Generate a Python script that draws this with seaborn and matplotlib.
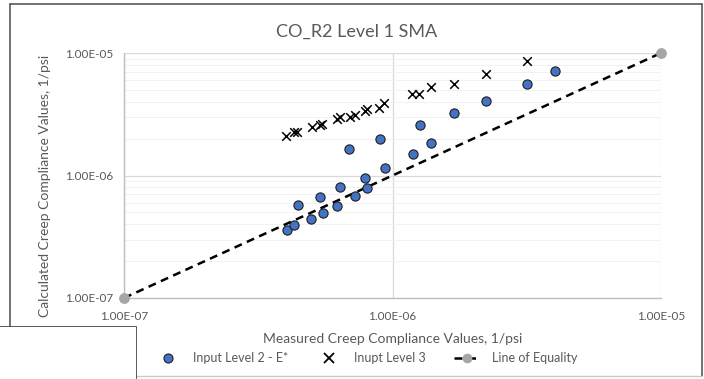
import matplotlib

matplotlib.use("Agg")
import matplotlib.pyplot as plt
import numpy as np
import pandas as pd
import seaborn as sns
from matplotlib.lines import Line2D
from matplotlib.patches import Rectangle
from matplotlib.ticker import FixedLocator, FuncFormatter, LogLocator

W, H = 704, 379

# Input Level 2 - E* (measured, calculated)
level2_measured = [4.05e-7, 4.29e-7, 4.45e-7, 4.99e-7, 5.39e-7, 5.52e-7, 6.19e-7,
                   6.38e-7, 6.90e-7, 7.22e-7, 7.87e-7, 8.02e-7, 8.98e-7, 9.35e-7,
                   1.19e-6, 1.27e-6, 1.39e-6, 1.70e-6, 2.23e-6, 3.16e-6, 4.04e-6]
level2_calculated = [3.62e-7, 3.91e-7, 5.77e-7, 4.41e-7, 6.63e-7, 4.90e-7, 5.60e-7,
                     8.05e-7, 1.64e-6, 6.75e-7, 9.60e-7, 7.94e-7, 1.98e-6, 1.16e-6,
                     1.50e-6, 2.59e-6, 1.85e-6, 3.25e-6, 4.07e-6, 5.54e-6, 7.08e-6]

# Inupt Level 3 (measured, calculated)
level3_measured = [4.02e-7, 4.30e-7, 4.41e-7, 5.01e-7, 5.35e-7, 5.47e-7, 6.19e-7,
                   6.38e-7, 6.95e-7, 7.22e-7, 7.87e-7, 8.05e-7, 8.93e-7, 9.28e-7,
                   1.18e-6, 1.26e-6, 1.39e-6, 1.69e-6, 2.23e-6, 3.16e-6]
level3_calculated = [2.12e-6, 2.25e-6, 2.25e-6, 2.48e-6, 2.56e-6, 2.64e-6, 2.88e-6,
                     3.03e-6, 3.03e-6, 3.13e-6, 3.37e-6, 3.48e-6, 3.59e-6, 3.90e-6,
                     4.61e-6, 4.61e-6, 5.27e-6, 5.57e-6, 6.68e-6, 8.61e-6]

equality = [1e-7, 1e-5]
axis_ticks = [1e-7, 1e-6, 1e-5]

level2 = pd.DataFrame({"measured": level2_measured, "calculated": level2_calculated})
level3 = pd.DataFrame({"measured": level3_measured, "calculated": level3_calculated})
line_eq = pd.DataFrame({"measured": equality, "calculated": equality})

sns.set_theme(style="white")
plt.rcParams["font.family"] = ["Lato", "DejaVu Sans"]

TEXT = "#595959"
GRID = "#d9d9d9"
BLUE = "#4472c4"

fig = plt.figure(figsize=(W / 100, H / 100), dpi=100)
fig.patch.set_facecolor("white")

ax = fig.add_axes([124 / W, 1 - 298 / H, (661 - 124) / W, (298 - 53) / H])
ax.set_xscale("log")
ax.set_yscale("log")

sns.lineplot(data=line_eq, x="measured", y="calculated", ax=ax, color="black",
             linestyle=(0, (3.2, 2.2)), linewidth=1.8, marker="o", markersize=7,
             markerfacecolor="#a6a6a6", markeredgecolor="#a6a6a6", clip_on=False,
             zorder=3)
sns.scatterplot(data=level3, x="measured", y="calculated", ax=ax, marker="x",
                color="black", s=38, linewidth=1.1, zorder=4)
sns.scatterplot(data=level2, x="measured", y="calculated", ax=ax, marker="o",
                color=BLUE, edgecolor="#1f1f1f", s=44, linewidth=0.8, zorder=5)

ax.set_xlim(1e-7, 1e-5)
ax.set_ylim(1e-7, 1e-5)
fmt = FuncFormatter(lambda v, p: f"{v:.2E}")
for axis in (ax.xaxis, ax.yaxis):
    axis.set_major_locator(FixedLocator(axis_ticks))
    axis.set_major_formatter(fmt)
ax.yaxis.set_minor_locator(LogLocator(base=10, subs=np.arange(2, 10)))
ax.xaxis.set_minor_locator(LogLocator(base=10, subs=[]))
ax.yaxis.set_minor_formatter(FuncFormatter(lambda v, p: ""))

ax.grid(which="major", color=GRID, linewidth=0.9)
ax.grid(which="minor", axis="y", color="#f1f1f1", linewidth=0.7)
ax.set_axisbelow(True)
for side in ("top", "right"):
    ax.spines[side].set_visible(False)
for side in ("left", "bottom"):
    ax.spines[side].set_color("#bfbfbf")
    ax.spines[side].set_linewidth(1.0)
ax.tick_params(which="both", length=0, labelsize=8.5, labelcolor=TEXT)
ax.tick_params(axis="x", pad=9)
ax.tick_params(axis="y", pad=8)
ax.set_xlabel("")
ax.set_ylabel("")

fig.text(357 / W, 1 - 32 / H, "CO_R2 Level 1 SMA", ha="center", va="center",
         fontsize=13, color=TEXT)
fig.text(393 / W, 1 - 339 / H, "Measured Creep Compliance Values, 1/psi",
         ha="center", va="center", fontsize=10, color=TEXT)
fig.text(45 / W, 1 - 186 / H, "Calculated Creep Compliance Values, 1/psi",
         ha="center", va="center", rotation=90, fontsize=10, color=TEXT)

handles = [
    Line2D([], [], linestyle="none", marker="o", markersize=6.5,
           markerfacecolor=BLUE, markeredgecolor="#1f1f1f", markeredgewidth=0.8),
    Line2D([], [], linestyle="none", marker="x", markersize=6.5, color="black",
           markeredgewidth=1.3),
    Line2D([], [], color="black", linestyle=(0, (3.2, 2.2)), linewidth=1.8,
           marker="o", markersize=6, markerfacecolor="#a6a6a6",
           markeredgecolor="#a6a6a6", markevery=[1]),
]
labels = ["Input Level 2 - E*", "Inupt Level 3", "Line of Equality"]
leg = fig.legend(handles, labels, loc="center", ncol=3, frameon=False,
                 bbox_to_anchor=(366 / W, 1 - 358 / H), fontsize=9,
                 handlelength=2.2, columnspacing=2.2, handletextpad=0.9)
for t in leg.get_texts():
    t.set_color(TEXT)

# chart frame and the edge of the neighbouring chart in the corner
frame = dict(color="#595959", linewidth=1.2, transform=None)
def px_line(xs, ys, color="#595959", lw=1.2):
    fig.add_artist(Line2D([x / W for x in xs], [1 - y / H for y in ys],
                          color=color, linewidth=lw, transform=fig.transFigure))

px_line([10, 702], [4, 4])
px_line([702, 702], [4, 376])
px_line([10, 10], [4, 327])
px_line([136, 702], [376, 376], color="#c8c8c8", lw=1.0)
fig.add_artist(Rectangle((0, 0), 136 / W, (H - 327) / H, transform=fig.transFigure,
                         facecolor="white", edgecolor="none", zorder=5))
px_line([0, 136], [327, 327], color="#404040")
px_line([136, 136], [327, 379], color="#404040")

fig.savefig("out.png", dpi=100)
